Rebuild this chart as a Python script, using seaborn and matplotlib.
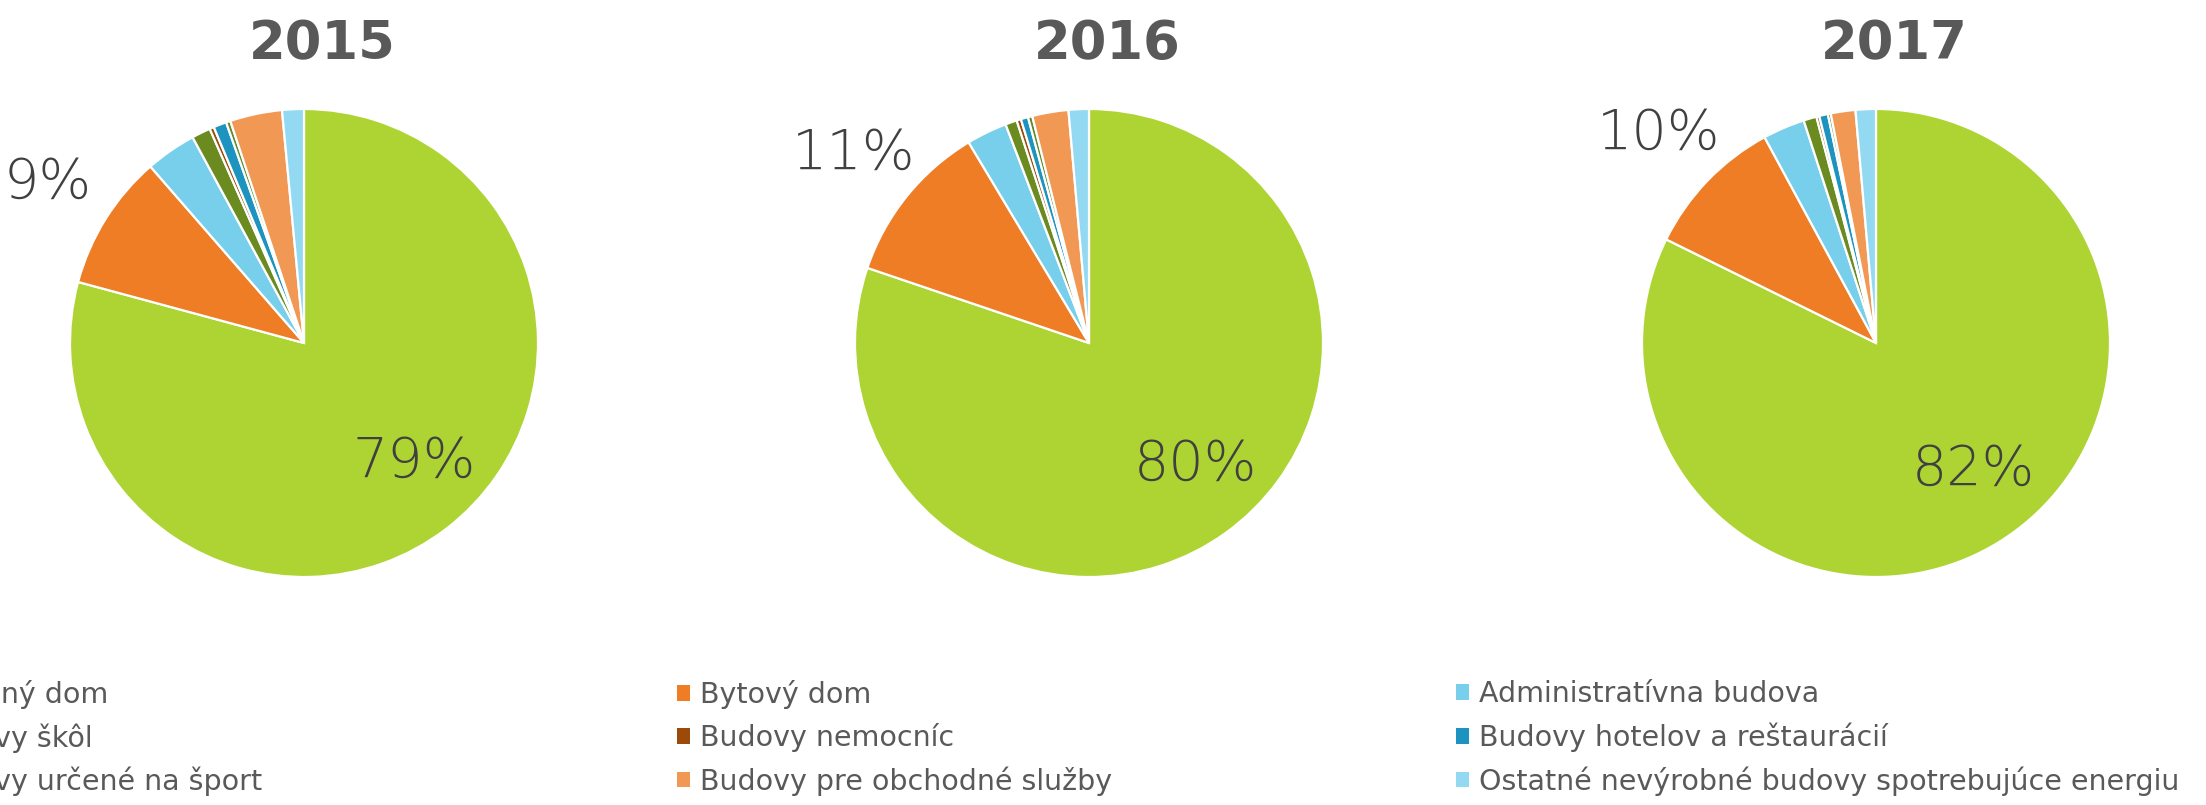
import numpy as np
import matplotlib
matplotlib.use("Agg")
import matplotlib.pyplot as plt
from matplotlib.patches import Patch
import seaborn as sns

# building categories (legend order, also the clockwise slice order)
categories = [
    "Rodinný dom",
    "Bytový dom",
    "Administratívna budova",
    "Budovy škôl",
    "Budovy nemocníc",
    "Budovy hotelov a reštaurácií",
    "Budovy určené na šport",
    "Budovy pre obchodné služby",
    "Ostatné nevýrobné budovy spotrebujúce energiu",
]
years = ["2015", "2016", "2017"]

# shares in %
shares_2015 = [79.2, 9.4, 3.5, 1.3, 0.3, 0.9, 0.3, 3.6, 1.5]
shares_2016 = [80.2, 11.2, 2.8, 0.8, 0.3, 0.5, 0.3, 2.5, 1.4]
shares_2017 = [82.3, 9.8, 2.9, 0.9, 0.2, 0.6, 0.2, 1.7, 1.4]

# only the two biggest slices carry a label
labelled = [0, 1]

sns.set_theme(style="white")
plt.rcParams["font.family"] = ["DejaVu Sans"]

palette = sns.color_palette([
    "#ADD433", "#EE7D26", "#78CFEB", "#6B8A1F", "#9C4A0A",
    "#1D94C0", "#5E8C2A", "#F29855", "#94D9F2",
])

W, H = 2206, 805
fig = plt.figure(figsize=(W / 100, H / 100), dpi=100)

centers_x = [304, 1089, 1876]
center_y = 343
R = 234
# (distance from centre, extra x nudge) for each labelled slice
label_pos = {0: (0.64, 0.08), 1: (1.29, 0.0)}

for year, shares, cx in zip(years, [shares_2015, shares_2016, shares_2017], centers_x):
    ax = fig.add_axes([(cx - R) / W, (H - center_y - R) / H, 2 * R / W, 2 * R / H])
    wedges, _ = ax.pie(
        shares,
        colors=palette,
        startangle=90,
        counterclock=False,
        radius=1,
        wedgeprops=dict(edgecolor="white", linewidth=1.6),
    )
    ax.set_xlim(-1, 1)
    ax.set_ylim(-1, 1)
    ax.set_aspect("equal")
    ax.axis("off")

    for i in labelled:
        w = wedges[i]
        ang = np.deg2rad((w.theta1 + w.theta2) / 2)
        d, nudge = label_pos[i]
        ax.text(d * np.cos(ang) + nudge, d * np.sin(ang), f"{shares[i]:.0f}%",
                ha="center", va="center", fontsize=40, fontweight=200,
                color="#404040", clip_on=False)

    fig.text((cx + 18) / W, 1 - 44 / H, year, ha="center", va="center",
             fontsize=38, fontweight="bold", color="#595959")

# legend laid out as 3 columns (row-major order, like the original)
col_x = [677 - 779, 677, 677 + 779]
for c in range(3):
    idx = [c, c + 3, c + 6]
    handles = [Patch(facecolor=palette[i], edgecolor="none") for i in idx]
    fig.legend(
        handles, [categories[i] for i in idx],
        loc="center left",
        bbox_to_anchor=(col_x[c] / W, 1 - 738 / H),
        bbox_transform=fig.transFigure,
        frameon=False,
        fontsize=20.5,
        labelcolor="#595959",
        handlelength=0.45,
        handleheight=0.45,
        handletextpad=0.35,
        labelspacing=0.5,
        borderpad=0,
        borderaxespad=0,
    )

plt.savefig("out.png", dpi=100)
plt.close()
